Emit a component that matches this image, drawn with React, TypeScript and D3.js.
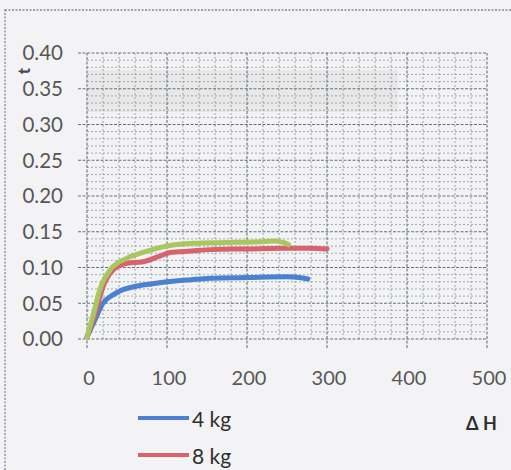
import React from "react";
import * as d3 from "d3";

const xTicks = [0, 100, 200, 300, 400, 500];
const yTicks = [0, 0.05, 0.1, 0.15, 0.2, 0.25, 0.3, 0.35, 0.4];

const blueX = [0, 10, 20, 33, 45, 58, 80, 100, 130, 154, 200, 250, 265, 276];
const blueY = [0.003, 0.027, 0.05, 0.062, 0.069, 0.073, 0.077, 0.080, 0.083, 0.085, 0.086, 0.087, 0.086, 0.084];

const redX = [0, 10, 20, 33, 50, 70, 91, 104, 130, 154, 200, 250, 280, 300];
const redY = [0.003, 0.035, 0.073, 0.097, 0.106, 0.108, 0.116, 0.121, 0.123, 0.125, 0.126, 0.127, 0.127, 0.126];

const greenX = [0, 8, 16, 29, 50, 70, 100, 133, 175, 216, 233, 245, 252];
const greenY = [0.003, 0.035, 0.069, 0.097, 0.113, 0.121, 0.130, 0.134, 0.135, 0.136, 0.137, 0.135, 0.132];

const legendLabels = ["4 kg", "8 kg"];
const seriesColors = ["#4c80d2", "#d8636c", "#a8c75e"];

export default function App() {
  const x = d3.scaleLinear().domain([0, 500]).range([87, 487]);
  const y = d3.scaleLinear().domain([0, 0.4]).range([339, 53]);
  const line = d3
    .line<[number, number]>()
    .x((d) => x(d[0]))
    .y((d) => y(d[1]))
    .curve(d3.curveMonotoneX);

  const series = [
    { xs: blueX, ys: blueY, c: seriesColors[0] },
    { xs: redX, ys: redY, c: seriesColors[1] },
    { xs: greenX, ys: greenY, c: seriesColors[2] },
  ];

  const minorX = d3.range(0, 501, 20).filter((v) => v % 100 !== 0);
  const minorY = d3.range(0, 41, 1).map((v) => v / 100).filter((v, i) => i % 5 !== 0);

  const font = "Lato, 'Open Sans', sans-serif";

  return (
    <svg
      width={511}
      height={470}
      style={{ position: "absolute", left: 0, top: 0, background: "#f3f3f5" }}
    >
      <rect x={0} y={0} width={511} height={470} fill="#f3f3f5" />
      <rect x={88} y={70} width={310} height={42} fill="#e2e2e4" opacity={0.7} />
      <rect x={5} y={10} width={520} height={480} fill="none" stroke="#7a8aa8" strokeWidth={1.3} strokeDasharray="2,1.5" />

      {/* minor grid */}
      {minorX.map((v) => (
        <line key={"mx" + v} x1={x(v)} x2={x(v)} y1={y(0)} y2={y(0.4)} stroke="#8e9aa2" strokeWidth={0.9} strokeDasharray="2,2" />
      ))}
      {minorY.map((v) => (
        <line key={"my" + v} x1={x(0)} x2={x(500)} y1={y(v)} y2={y(v)} stroke="#98a1a8" strokeWidth={0.9} strokeDasharray="2,2" />
      ))}
      {/* major grid */}
      {xTicks.map((v) => (
        <line key={"Mx" + v} x1={x(v)} x2={x(v)} y1={y(0) + 9} y2={y(0.4)} stroke="#66737c" strokeWidth={1.1} strokeDasharray="3,1.5" />
      ))}
      {yTicks.map((v) => (
        <line key={"My" + v} x1={x(0) - 9} x2={x(500)} y1={y(v)} y2={y(v)} stroke="#66737c" strokeWidth={1.1} strokeDasharray="3,1.5" />
      ))}

      {/* y tick labels */}
      {yTicks.map((v) => (
        <text key={"yl" + v} x={63} y={y(v)} dy="0.36em" textAnchor="end" fontFamily={font} fontSize={20.5} fill="#575757">
          {v.toFixed(2)}
        </text>
      ))}
      {/* x tick labels */}
      {xTicks.map((v) => (
        <text key={"xl" + v} x={x(v) + 2} y={385} textAnchor="middle" fontFamily={font} fontSize={20} fill="#575757">
          {v}
        </text>
      ))}

      {/* y axis title */}
      <text x={24} y={71} transform="rotate(-90 24 71)" textAnchor="middle" dy="0.35em" fontFamily={font} fontSize={17} fontWeight="bold" fill="#4a4a4a">
        t
      </text>

      {/* series */}
      {series.map((s, i) => (
        <path
          key={"s" + i}
          d={line(s.xs.map((v, j) => [v, s.ys[j]] as [number, number])) || ""}
          fill="none"
          stroke={s.c}
          strokeWidth={5}
          strokeLinecap="round"
          strokeLinejoin="round"
        />
      ))}

      {/* legend */}
      {legendLabels.map((lab, i) => (
        <g key={"lg" + i}>
          <line x1={138} x2={189} y1={418 + i * 37} y2={418 + i * 37} stroke={seriesColors[i]} strokeWidth={4} />
          <text x={192} y={420 + i * 37} dy="0.35em" fontFamily={font} fontSize={21} fill="#2e2e2e">
            {lab}
          </text>
        </g>
      ))}

      <text x={466} y={424} dy="0.35em" fontFamily={font} fontSize={18} fontWeight="bold" fill="#2e2e2e">
        Δ H
      </text>
    </svg>
  );
}
